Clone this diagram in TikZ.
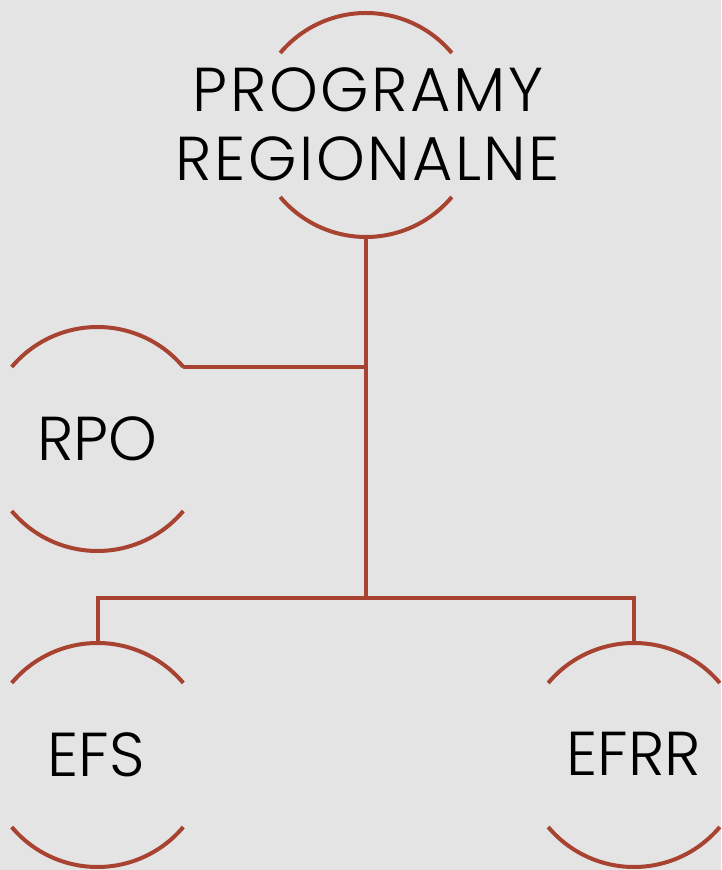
\documentclass[tikz,border=0pt]{standalone}
\usepackage{fontspec}
\setmainfont{Poppins}[UprightFont=* Light]
\newfontfamily\widefont{Poppins}[UprightFont=* Light,LetterSpace=4]
\definecolor{bgc}{HTML}{E4E4E4}
\definecolor{linec}{HTML}{A84332}
\begin{document}
\begin{tikzpicture}[x=1pt,y=1pt,
  ring/.style={shape=circle,minimum size=224pt,inner sep=0pt,outer sep=0pt,draw=none},
  arcline/.style={draw=linec,line width=4pt},
  conn/.style={draw=linec,line width=4pt},
  lbl/.style={font=\fontsize{62}{68}\selectfont,text=black,inner sep=0pt,anchor=base},
  biglbl/.style={font=\widefont\fontsize{62}{68}\selectfont,text=black,inner sep=0pt,anchor=base}]
\fill[bgc] (0,0) rectangle (721,870);
\useasboundingbox (0,0) rectangle (721,870);
\node[ring] (top) at (366,745) {};
\node[ring] (rpo) at (97.5,431) {};
\node[ring] (efs) at (97.5,115) {};
\node[ring] (efrr) at (634,115) {};
\foreach \n in {top,rpo,efs,efrr}{
  \draw[arcline] (\n.40) arc[start angle=40,end angle=140,radius=112pt];
  \draw[arcline] (\n.220) arc[start angle=220,end angle=320,radius=112pt];
}
\node[biglbl] (t1) at (368,758) {PROGRAMY};
\node[biglbl] (t2) at (368,689) {REGIONALNE};
\node[lbl] (lrpo) at (97.5,409) {RPO};
\node[lbl] (lefs) at (96,93) {EFS};
\node[lbl] (lefrr) at (634,94) {EFRR};
\coordinate (bus) at (366,272);
\draw[conn] (top.south) -- (bus);
\draw[conn] (rpo.40) -- (rpo.40 -| top.south);
\draw[conn,line join=miter] (efs.north) -- (efs.north |- bus) -- (efrr.north |- bus) -- (efrr.north);
\end{tikzpicture}
\end{document}
